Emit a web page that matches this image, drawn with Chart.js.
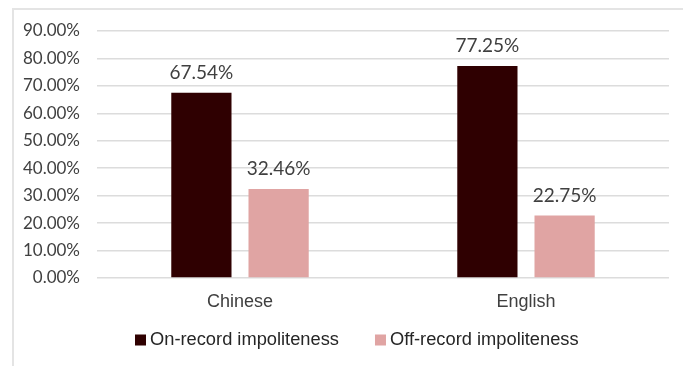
<!DOCTYPE html>
<html>
<head>
<meta charset="utf-8">
<script src="https://cdn.jsdelivr.net/npm/chart.js@4.4.1/dist/chart.umd.min.js"></script>
<style>
  html, body { margin: 0; padding: 0; background: #fff; }
  #wrap { position: relative; width: 683px; height: 366px; overflow: hidden; }
  #frame { position: absolute; left: 12px; top: 8px; width: 720px; height: 420px;
           border: 2px solid #e4e4e4; box-sizing: border-box; }
  #mycanvas { position: absolute; left: 0; top: 0; }
</style>
</head>
<body>
<div id="wrap">
  <div id="frame"></div>
  <canvas id="mycanvas" width="683" height="366"></canvas>
</div>
<script>
var categories = ['Chinese', 'English'];
var onRecord = [67.54, 77.25];
var offRecord = [32.46, 22.75];
var seriesNames = ['On-record impoliteness', 'Off-record impoliteness'];
var yTicks = [0, 10, 20, 30, 40, 50, 60, 70, 80, 90];

// draws the value above each bar
var valueLabels = {
  id: 'valueLabels',
  afterDatasetsDraw: function(chart) {
    var ctx = chart.ctx;
    ctx.save();
    ctx.font = '19px Lato';
    ctx.fillStyle = '#404040';
    ctx.textAlign = 'center';
    ctx.textBaseline = 'alphabetic';
    chart.data.datasets.forEach(function(ds, i) {
      chart.getDatasetMeta(i).data.forEach(function(bar, j) {
        ctx.fillText(ds.data[j].toFixed(2) + '%', bar.x, bar.y - 14);
      });
    });
    ctx.restore();
  }
};

// legend under the axis, excel style (small square, tight gap)
var bottomLegend = {
  id: 'bottomLegend',
  afterDraw: function(chart) {
    var ctx = chart.ctx;
    var x = 135, y = 340;
    ctx.save();
    ctx.font = '18.3px "Liberation Sans"';
    ctx.textBaseline = 'middle';
    ctx.textAlign = 'left';
    chart.data.datasets.forEach(function(ds) {
      ctx.fillStyle = ds.backgroundColor;
      ctx.fillRect(x, y - 5.5, 11, 11);
      ctx.fillStyle = '#262626';
      ctx.fillText(ds.label, x + 15, y);
      x += 15 + ctx.measureText(ds.label).width + 36;
    });
    ctx.restore();
  }
};

var chartdata = {
  labels: categories,
  datasets: [
    {
      label: seriesNames[0],
      backgroundColor: '#2f0001',
      data: onRecord
    },
    {
      label: seriesNames[1],
      backgroundColor: '#e0a4a3',
      data: offRecord
    }
  ]
};

var ctx = document.getElementById('mycanvas');

var barGraph = new Chart(ctx, {
  type: 'bar',
  data: chartdata,
  plugins: [valueLabels, bottomLegend],
  options: {
    responsive: false,
    animation: false,
    layout: { padding: { left: 14, right: 14, top: 31, bottom: 0 } },
    datasets: { bar: { categoryPercentage: 0.54, barPercentage: 0.78 } },
    plugins: {
      tooltip: { enabled: false },
      legend: { display: false }
    },
    scales: {
      x: {
        afterFit: function(scale) { scale.height = 88; },
        grid: { display: false },
        border: { display: false },
        ticks: { color: '#404040', font: { family: 'Liberation Sans', size: 18 }, padding: 5 }
      },
      y: {
        min: 0, max: 90,
        afterBuildTicks: function(scale) {
          scale.ticks = yTicks.map(function(v) { return { value: v }; });
        },
        afterFit: function(scale) { scale.width = 83; },
        grid: { color: '#dcdcdc', lineWidth: 1.5, drawTicks: false },
        border: { display: false },
        ticks: {
          color: '#404040', padding: 17,
          font: { family: 'Lato', size: 17 },
          callback: function(v) { return v.toFixed(2) + '%'; }
        }
      }
    }
  }
});
</script>
</body>
</html>
